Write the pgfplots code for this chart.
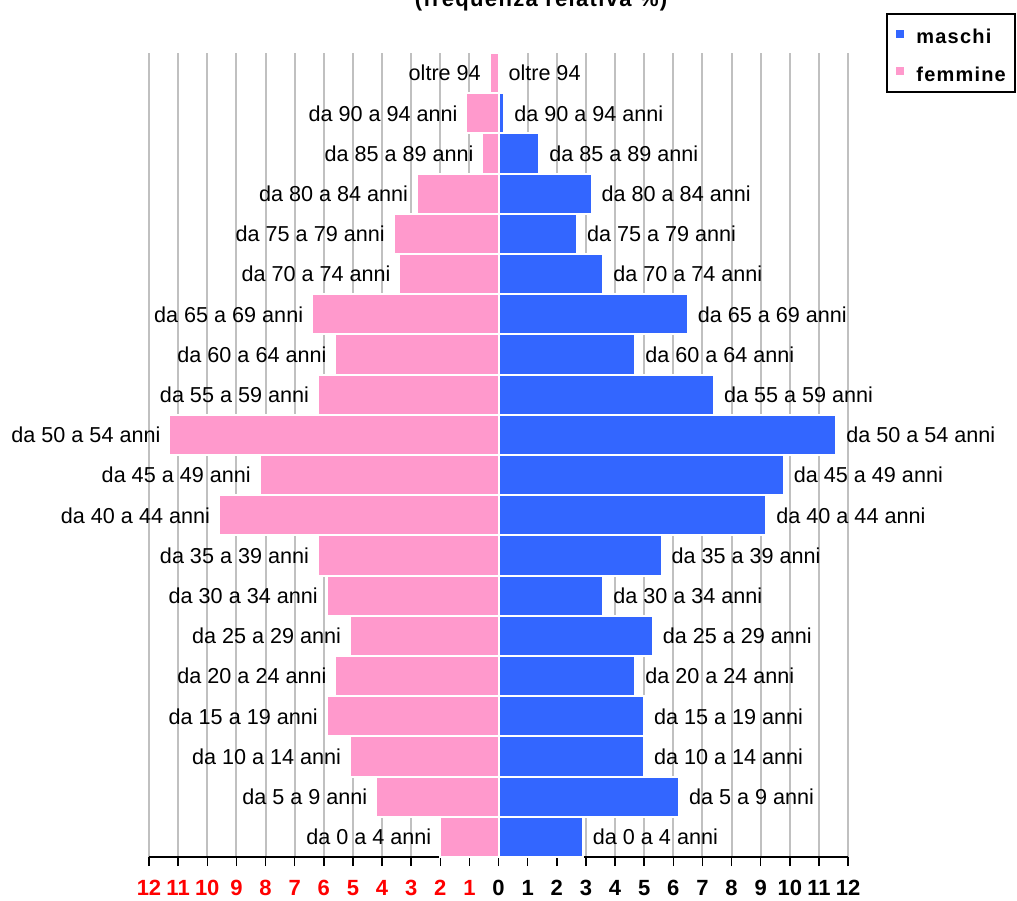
\documentclass[border=0pt]{standalone}
\usepackage{fontspec}
\setmainfont{Liberation Sans}
\newfontfamily\spacedfont[LetterSpace=6]{Liberation Sans}
\usepackage{pgfplots}
\usepackage{pgfplotstable}
\pgfplotsset{compat=1.18}

\definecolor{maschi}{HTML}{3366FF}
\definecolor{femmine}{HTML}{FF99CC}
\definecolor{griglia}{HTML}{C0C0C0}

% y = position from bottom, m = maschi (%), f = femmine (%, negative)
\pgfplotstableread[col sep=comma]{
y,m,f,lab
0,2.9,-2.0,da 0 a 4 anni
1,6.2,-4.2,da 5 a 9 anni
2,5.0,-5.1,da 10 a 14 anni
3,5.0,-5.9,da 15 a 19 anni
4,4.7,-5.6,da 20 a 24 anni
5,5.3,-5.1,da 25 a 29 anni
6,3.6,-5.9,da 30 a 34 anni
7,5.6,-6.2,da 35 a 39 anni
8,9.2,-9.6,da 40 a 44 anni
9,9.8,-8.2,da 45 a 49 anni
10,11.6,-11.3,da 50 a 54 anni
11,7.4,-6.2,da 55 a 59 anni
12,4.7,-5.6,da 60 a 64 anni
13,6.5,-6.4,da 65 a 69 anni
14,3.6,-3.4,da 70 a 74 anni
15,2.7,-3.6,da 75 a 79 anni
16,3.2,-2.8,da 80 a 84 anni
17,1.4,-0.55,da 85 a 89 anni
18,0.2,-1.1,da 90 a 94 anni
19,0,-0.3,oltre 94
}\piramide

\begin{document}
\begin{tikzpicture}
\begin{axis}[
    at={(74.5pt,21.5pt)}, anchor=south west,
    scale only axis,
    width=349.5pt, height=402pt,
    xbar, bar width=1, bar shift=0pt,
    xmin=-12, xmax=12,
    ymin=-0.5, ymax=19.5,
    axis y line=none,
    axis x line*=bottom,
    x axis line style={black, line width=1pt},
    xtick={-12,...,12},
    xticklabels={{\color{red}12},{\color{red}11},{\color{red}10},{\color{red}9},{\color{red}8},{\color{red}7},{\color{red}6},{\color{red}5},{\color{red}4},{\color{red}3},{\color{red}2},{\color{red}1},0,1,2,3,4,5,6,7,8,9,10,11,12},
    xtick align=outside,
    major tick length=4.5pt,
    every tick/.style={black, line width=0.75pt},
    xticklabel style={font=\fontsize{11}{12}\selectfont\bfseries, inner sep=0pt, anchor=center, yshift=-11pt},
    xmajorgrids,
    major grid style={griglia, line width=1pt},
    point meta=explicit symbolic,
    nodes near coords,
    nodes near coords style={font=\fontsize{10.8}{12}\selectfont, text=black, inner sep=0pt},
]
\addplot[fill=femmine, draw=white, line width=1pt,
    every node near coord/.append style={anchor=east, xshift=-4pt}]
    table[x=f, y=y, meta=lab] {\piramide};
\addplot[fill=maschi, draw=white, line width=1pt,
    every node near coord/.append style={anchor=west, xshift=4.5pt}]
    table[x=m, y=y, meta=lab] {\piramide};
\end{axis}

% titolo (tagliato in alto come nell'originale)
\node[anchor=base, font=\spacedfont\fontsize{11}{12}\selectfont\bfseries] at (270.5pt,446.5pt) {(frequenza relativa \%)};

% legenda
\draw[black, line width=0.75pt] (443.5pt,404pt) rectangle (507.5pt,443pt);
\fill[maschi] (447.75pt,431pt) rectangle (451.75pt,435pt);
\fill[femmine] (447.75pt,412.5pt) rectangle (451.75pt,416.5pt);
\node[anchor=base west, inner sep=0pt, font=\spacedfont\fontsize{10}{12}\selectfont\bfseries] at (458pt,428.3pt) {maschi};
\node[anchor=base west, inner sep=0pt, font=\spacedfont\fontsize{10}{12}\selectfont\bfseries] at (458pt,409pt) {femmine};

\pgfresetboundingbox
\useasboundingbox (0,0) rectangle (508.5pt,450pt);
\end{tikzpicture}
\end{document}
